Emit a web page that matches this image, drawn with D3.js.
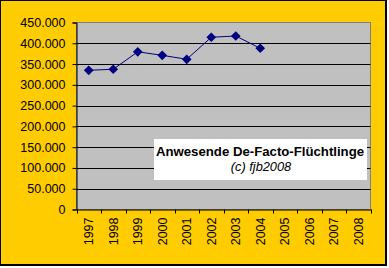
<!DOCTYPE html>
<html><head><meta charset="utf-8">
<script src="https://cdn.jsdelivr.net/npm/d3@7"></script>
<style>
html,body{margin:0;padding:0;background:#fff;}
svg{display:block;font-family:Arial,"Liberation Sans",sans-serif;}
</style></head>
<body>
<svg id="c" width="389" height="268"></svg>
<script>
const years = ["1997","1998","1999","2000","2001","2002","2003","2004","2005","2006","2007","2008"];
const refugees = [335000, 337500, 379500, 371000, 361500, 414500, 417500, 388000];
const yTicks = [0, 50000, 100000, 150000, 200000, 250000, 300000, 350000, 400000, 450000];
const legendTitle = "Anwesende De-Facto-Flüchtlinge";
const legendSub = "(c) fjb2008";

const svg = d3.select("#c");
// chart area
svg.append("rect").attr("x",0).attr("y",0).attr("width",387).attr("height",266).attr("fill","#000");
svg.append("rect").attr("x",1).attr("y",1).attr("width",384).attr("height",263).attr("fill","#FFCC00");

const L = 76.5, R = 370.5, T = 22.5, B = 209.5;
const x = d3.scaleBand().domain(years).range([L, R]);
const y = d3.scaleLinear().domain([0, 450000]).range([B, T]);

svg.append("rect").attr("x",L).attr("y",T).attr("width",R-L).attr("height",B-T)
  .attr("fill","#C0C0C0").attr("stroke","#808080").attr("stroke-width",1);

// gridlines
svg.append("g").selectAll("line").data(yTicks.filter(d=>d>0 && d<450000)).join("line")
  .attr("x1",L).attr("x2",R).attr("y1",d=>Math.round(y(d))+0.5).attr("y2",d=>Math.round(y(d))+0.5)
  .attr("stroke","#000").attr("stroke-width",1);

const fmt = d => d === 0 ? "0" : d3.format(",")(d).replace(/,/g, ".");

// y axis
const ya = svg.append("g").attr("transform",`translate(${L},0)`)
  .call(d3.axisLeft(y).tickValues(yTicks).tickSize(4).tickPadding(7).tickFormat(fmt));
ya.select(".domain").attr("stroke","#000");
ya.selectAll(".tick line").attr("stroke","#000");
ya.selectAll("text").attr("font-size","12.5px").attr("fill","#000").attr("font-family","Arial,'Liberation Sans',sans-serif");

// x axis
const xa = svg.append("g").attr("transform",`translate(0,${B})`)
  .call(d3.axisBottom(x).tickSize(0).tickFormat(d=>d));
xa.select(".domain").attr("stroke","#000");
xa.selectAll("text").attr("font-size","12.5px").attr("fill","#000")
  .attr("font-family","Arial,'Liberation Sans',sans-serif")
  .attr("transform","rotate(-90)").attr("text-anchor","end")
  .attr("x",-8).attr("y",0).attr("dy","0.35em");
// boundary ticks
svg.append("g").selectAll("line").data(years.map((d,i)=>i).concat([years.length])).join("line")
  .attr("x1",i=>Math.round(L + i*x.step())+0.5).attr("x2",i=>Math.round(L + i*x.step())+0.5)
  .attr("y1",B).attr("y2",B+4).attr("stroke","#000");

// line
const pts = refugees.map((v,i)=>[x(years[i])+x.bandwidth()/2, y(v)]);
svg.append("path").datum(pts).attr("d",d3.line()).attr("fill","none").attr("stroke","#000080").attr("stroke-width",1);
svg.append("g").selectAll("path").data(pts).join("path")
  .attr("d",d3.symbol(d3.symbolDiamond2, 60)).attr("transform",d=>`translate(${d[0]},${d[1]})`)
  .attr("fill","#000080");

// legend box
svg.append("rect").attr("x",154).attr("y",139).attr("width",213).attr("height",41).attr("fill","#fff");
svg.append("text").attr("x",260).attr("y",156).attr("text-anchor","middle")
  .attr("font-size","13.2px").attr("font-weight","bold").text(legendTitle);
svg.append("text").attr("x",261).attr("y",171).attr("text-anchor","middle")
  .attr("font-size","12.8px").attr("font-style","italic").text(legendSub);
</script>
</body></html>
